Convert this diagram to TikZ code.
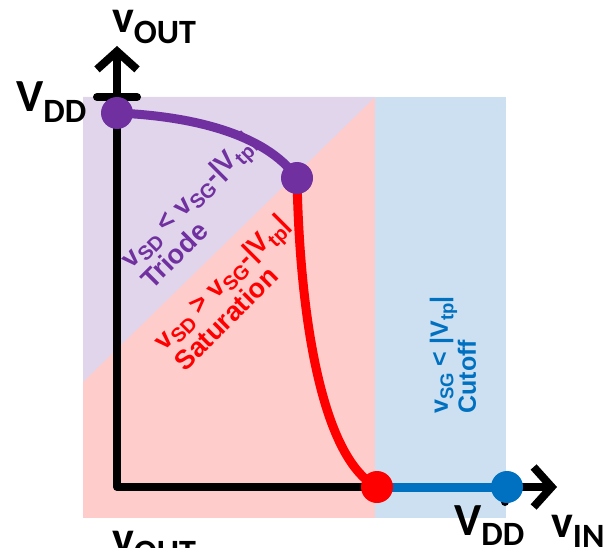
\documentclass[tikz,border=0pt]{standalone}
\usepackage{fontspec}
\setmainfont{Carlito}
\newfontfamily\regionfont{Liberation Sans}
\usetikzlibrary{arrows.meta}
\definecolor{trioRegion}{HTML}{E0D5EB}
\definecolor{satRegion}{HTML}{FFCCCC}
\definecolor{cutRegion}{HTML}{CCE0F1}
\definecolor{trioLine}{HTML}{7030A0}
\definecolor{satLine}{HTML}{FF0000}
\definecolor{cutLine}{HTML}{0070C0}
\newcommand{\lsub}[1]{\raisebox{-0.22em}{\scalebox{0.74}{#1}}}
\begin{document}
\begin{tikzpicture}[x=1pt, y=-1pt, line join=round, line cap=round,
  axislbl/.style={font=\fontsize{46}{50}\selectfont\bfseries, inner sep=0pt, anchor=base west},
  regionlbl/.style={font=\regionfont\fontsize{27}{30}\selectfont\bfseries, align=left, inner sep=0pt},
  vdot/.style={circle, inner sep=0pt, minimum size=32pt}]
  \useasboundingbox (0,0) rectangle (607,548);
  % Bereiche: Triode, Sättigung, Sperrbereich
  \fill[satRegion] (83,97) rectangle (375,518);
  \fill[trioRegion] (83,97) -- (375,97) -- (83,382) -- cycle;
  \fill[cutRegion] (375,97) rectangle (506,518);
  % Achsen mit Markierungen
  \draw[line width=8pt, {Straight Barb[length=18pt, width=40pt]}-{Straight Barb[length=18pt, width=40pt]}]
    (117,46) -- (117,487) -- (557,487);
  \draw[line width=8pt] (97,97) -- (137,97) (505,480) -- (505,502);
  % Kennlinie
  \coordinate (vddPt) at (117,113);
  \coordinate (triPt) at (297,178);
  \coordinate (satPt) at (377,487);
  \coordinate (cutPt) at (507,487);
  \draw[trioLine, line width=9pt] (vddPt) .. controls (190,116) and (265,133) .. (triPt);
  \draw[satLine, line width=9pt] (triPt) .. controls (300,330) and (325,460) .. (satPt);
  \draw[cutLine, line width=9pt] (satPt) -- (cutPt);
  \node[vdot, fill=trioLine] (vddDot) at (vddPt) {};
  \node[vdot, fill=trioLine] (triDot) at (triPt) {};
  \node[vdot, fill=satLine] (satDot) at (satPt) {};
  \node[vdot, fill=cutLine] (cutDot) at (cutPt) {};
  % Beschriftungen
  \node[axislbl] (voutTop) at (112,33) {v\lsub{OUT}};
  \node[axislbl] (vddLeft) at (16,112) {V\lsub{DD}};
  \node[axislbl] (vddBot) at (454,535) {V\lsub{DD}};
  \node[axislbl] (vin) at (551,537) {v\lsub{IN}};
  \node[axislbl] (voutBot) at (112,553) {v\lsub{OUT}};
  \node[regionlbl, trioLine, rotate=45] (triLbl) at (198,210) {v\lsub{SD} < v\lsub{SG}-|V\lsub{tp}|\\Triode};
  \node[regionlbl, satLine, rotate=45] (satLbl) at (231,292) {v\lsub{SD} > v\lsub{SG}-|V\lsub{tp}|\\Saturation};
  \node[regionlbl, cutLine, rotate=90, font=\regionfont\fontsize{25}{28}\selectfont\bfseries] (cutLbl) at (453,355) {v\lsub{SG} < |V\lsub{tp}|\\Cutoff};
\end{tikzpicture}
\end{document}
